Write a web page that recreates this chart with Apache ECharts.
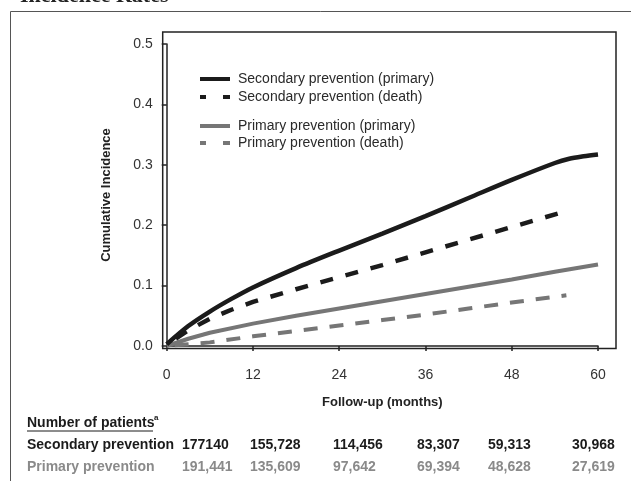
<!DOCTYPE html>
<html><head><meta charset="utf-8">
<script src="https://cdn.jsdelivr.net/npm/echarts@6/dist/echarts.min.js"></script>
<style>html,body{margin:0;padding:0;background:#fff}#c{width:631px;height:481px}</style>
</head><body><div id="c"></div>
<script>
// ---- data ----
const seriesNames = ['Secondary prevention (primary)', 'Secondary prevention (death)', 'Primary prevention (primary)', 'Primary prevention (death)'];
const secPrimaryMonths = [0, 3, 6, 9, 12, 18, 24, 30, 36, 42, 48, 54, 56, 58, 60];
const secPrimaryValues = [0.003, 0.033, 0.057, 0.078, 0.097, 0.129, 0.158, 0.186, 0.215, 0.245, 0.275, 0.303, 0.310, 0.314, 0.317];
const secDeathMonths = [0, 3, 6, 9, 12, 18, 24, 30, 36, 42, 48, 55.2];
const secDeathValues = [0.002, 0.026, 0.045, 0.060, 0.073, 0.094, 0.114, 0.134, 0.155, 0.176, 0.197, 0.222];
const priPrimaryMonths = [0, 3, 6, 12, 18, 24, 30, 36, 42, 48, 54, 60];
const priPrimaryValues = [0, 0.012, 0.022, 0.037, 0.050, 0.062, 0.074, 0.086, 0.098, 0.110, 0.123, 0.135];
const priDeathMonths = [0, 6, 12, 18, 24, 30, 36, 42, 48, 55.6];
const priDeathValues = [0, 0.006, 0.016, 0.025, 0.034, 0.043, 0.052, 0.062, 0.072, 0.084];
const xTickValues = [0, 12, 24, 36, 48, 60];
const yTickValues = [0.0, 0.1, 0.2, 0.3, 0.4, 0.5];
const riskHeader = 'Number of patients';
const riskRowLabels = ['Secondary prevention', 'Primary prevention'];
const secondaryAtRisk = ['177140', '155,728', '114,456', '83,307', '59,313', '30,968'];
const primaryAtRisk = ['191,441', '135,609', '97,642', '69,394', '48,628', '27,619'];
const titleText = 'Incidence Rates';

// ---- layout / style ----
const FONT = '"Liberation Sans", Arial, sans-serif';
const BLACK = '#1b1b1b', GRAY = '#767676', GRAYTXT = '#8a8a8a';
const colX = [182, 250, 333, 417, 488, 572];
const rowY = [445, 467];

function zip(xs, ys) { return xs.map((x, i) => [x, ys[i]]); }

const chart = echarts.init(document.getElementById('c'), null, {renderer: 'canvas'});

const graphics = [
  {type: 'polyline', z: 1, shape: {points: [[10.5, 481], [10.5, 11.5], [631, 11.5]]}, style: {fill: 'none', stroke: '#555', lineWidth: 1}},
  {type: 'text', z: 1, style: {x: 20, y: -4, text: titleText, font: 'bold 22px "Liberation Serif", serif', fill: '#222', verticalAlign: 'middle'}},
  {type: 'rect', z: 1, shape: {x: 162.7, y: 32, width: 453.3, height: 316.5}, style: {fill: 'none', stroke: '#222', lineWidth: 1.5}},
  {type: 'text', style: {x: 27, y: 423, text: riskHeader, font: 'bold 14px ' + FONT, fill: '#1b1b1b', verticalAlign: 'middle'}},
  {type: 'line', shape: {x1: 27, y1: 431, x2: 153, y2: 431}, style: {stroke: '#1b1b1b', lineWidth: 1}},
  {type: 'text', style: {x: 154, y: 418, text: 'a', font: 'bold 8px ' + FONT, fill: '#1b1b1b', verticalAlign: 'middle'}}
];
const rowColors = [BLACK, GRAYTXT];
const rowVals = [secondaryAtRisk, primaryAtRisk];
riskRowLabels.forEach((lab, r) => {
  graphics.push({type: 'text', style: {x: 27, y: rowY[r], text: lab, font: 'bold 14px ' + FONT, fill: rowColors[r], verticalAlign: 'middle'}});
  rowVals[r].forEach((v, i) => {
    graphics.push({type: 'text', style: {x: colX[i], y: rowY[r], text: v, font: 'bold 14px ' + FONT, fill: rowColors[r], verticalAlign: 'middle'}});
  });
});

const solidIcon = 'path://M0,0H30V4H0Z';
const dashIcon = 'path://M0,0H6V4H0Z M23,0H30V4H23Z';
const legendText = {fontSize: 14, color: '#2a2a2a', fontFamily: FONT, lineHeight: 14, padding: [0, 0, 0, 3]};

const option = {
  backgroundColor: '#fff',
  animation: false,
  grid: {left: 166.7, right: 33, top: 44, bottom: 135},
  legend: [
    {left: 200, top: 72, padding: 0, orient: 'vertical', itemWidth: 30, itemHeight: 4, itemGap: 4, textStyle: legendText,
     data: [{name: seriesNames[0], icon: solidIcon}, {name: seriesNames[1], icon: dashIcon}]},
    {left: 200, top: 119, padding: 0, orient: 'vertical', itemWidth: 30, itemHeight: 4, itemGap: 3, textStyle: legendText,
     data: [{name: seriesNames[2], icon: solidIcon}, {name: seriesNames[3], icon: dashIcon}]}
  ],
  xAxis: {
    type: 'value', min: xTickValues[0], max: xTickValues[xTickValues.length - 1], interval: 12, offset: 3,
    axisLine: {show: true, lineStyle: {color: '#222', width: 1.5}},
    axisTick: {show: true, length: 5, lineStyle: {color: '#222', width: 1.5}},
    axisLabel: {margin: 19, fontSize: 14, color: '#333', fontFamily: FONT},
    splitLine: {show: false},
    name: 'Follow-up (months)', nameLocation: 'middle', nameGap: 47,
    nameTextStyle: {fontSize: 13, fontWeight: 'bold', color: '#222', fontFamily: FONT}
  },
  yAxis: {
    type: 'value', min: yTickValues[0], max: yTickValues[yTickValues.length - 1], interval: 0.1, offset: 4,
    axisLine: {show: true, lineStyle: {color: '#222', width: 1.5}},
    axisTick: {show: true, length: 5, lineStyle: {color: '#222', width: 1.5}},
    axisLabel: {margin: 10, fontSize: 14, color: '#333', fontFamily: FONT, formatter: v => v.toFixed(1)},
    splitLine: {show: false},
    name: 'Cumulative Incidence', nameLocation: 'middle', nameGap: 50,
    nameTextStyle: {fontSize: 13, fontWeight: 'bold', color: '#222', fontFamily: FONT}
  },
  series: [
    {name: seriesNames[0], type: 'line', symbol: 'none', smooth: 0.3, z: 5, itemStyle: {color: BLACK},
     lineStyle: {color: BLACK, width: 4.5, cap: 'butt'}, data: zip(secPrimaryMonths, secPrimaryValues)},
    {name: seriesNames[1], type: 'line', symbol: 'none', z: 4, itemStyle: {color: BLACK},
     lineStyle: {color: BLACK, width: 4.5, type: [13, 13], dashOffset: 15, cap: 'butt'}, data: zip(secDeathMonths, secDeathValues)},
    {name: seriesNames[2], type: 'line', symbol: 'none', z: 3, itemStyle: {color: GRAY},
     lineStyle: {color: GRAY, width: 4, cap: 'butt'}, data: zip(priPrimaryMonths, priPrimaryValues)},
    {name: seriesNames[3], type: 'line', symbol: 'none', z: 3, itemStyle: {color: GRAY},
     lineStyle: {color: GRAY, width: 4, type: [14, 12], dashOffset: 18, cap: 'butt'}, data: zip(priDeathMonths, priDeathValues)}
  ],
  graphic: graphics
};
chart.setOption(option);
</script>
</body></html>
